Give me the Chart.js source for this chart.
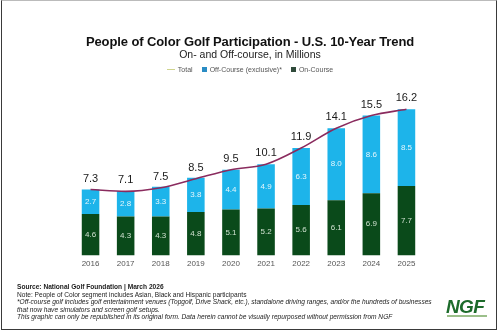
<!DOCTYPE html>
<html>
<head>
<meta charset="utf-8">
<script src="https://cdn.jsdelivr.net/npm/chart.js@4.4.1/dist/chart.umd.min.js"></script>
<style>
  html, body { margin: 0; padding: 0; background: #fff; }
  body { width: 500px; height: 334px; position: relative; overflow: hidden; font-family: "Liberation Sans", Arial, sans-serif; }
  #frame { position: absolute; left: 1px; top: 0; width: 496px; height: 330px; border: 1.5px solid #3a3a3a; border-top-color: #bbb; box-sizing: border-box; }
  #chart-wrap { position: absolute; left: 0; top: 0; width: 500px; height: 334px; }
  .title { position: absolute; left: 0; width: 500px; text-align: center; color: #111; }
  #title { top: 34px; font-size: 13px; font-weight: bold; letter-spacing: -0.1px; }
  #subtitle { top: 48px; font-size: 10.5px; color: #222; }
  #legend { position: absolute; top: 66px; left: 0; width: 500px; text-align: center; font-size: 7px; color: #555; }
  #legend span.item { margin: 0 4.5px; }
  #legend .sw { display: inline-block; width: 5px; height: 5px; margin-right: 3px; vertical-align: 0px; }
  #legend .ln { display: inline-block; width: 8px; height: 1.3px; margin-right: 3px; vertical-align: 2px; }
  #footer { position: absolute; left: 17px; top: 283px; font-size: 6.6px; line-height: 7.6px; color: #222; }
  #footer .b { font-weight: bold; }
  #footer .i { font-style: italic; }
  #logo { position: absolute; left: 446px; top: 296px; font-size: 19px; font-weight: 900; font-style: italic; color: #1d6b2b; letter-spacing: -0.6px; font-family: "Liberation Sans", Arial, sans-serif; }
  #logo-sub { position: absolute; left: 447px; top: 315px; width: 40px; height: 1.5px; background: #9bbf8a; }
</style>
</head>
<body>
<div id="chart-wrap"><canvas id="chart" width="500" height="334"></canvas></div>
<div id="frame"></div>
<div class="title" id="title">People of Color Golf Participation - U.S. 10-Year Trend</div>
<div class="title" id="subtitle">On- and Off-course, in Millions</div>
<div id="legend"></div>
<div id="footer">
  <div class="b">Source: National Golf Foundation | March 2026</div>
  <div>Note: People of Color segment includes Asian, Black and Hispanic participants</div>
  <div class="i">*Off-course golf includes golf entertainment venues (Topgolf, Drive Shack, etc.), standalone driving ranges, and/or the hundreds of businesses</div>
  <div class="i">that now have simulators and screen golf setups.</div>
  <div class="i">This graphic can only be republished in its original form. Data herein cannot be visually repurposed without permission from NGF</div>
</div>
<div id="logo">NGF</div>
<div id="logo-sub"></div>
<script>
// --- DATA ---
const years = ['2016', '2017', '2018', '2019', '2020', '2021', '2022', '2023', '2024', '2025'];
const onCourse = [4.6, 4.3, 4.3, 4.8, 5.1, 5.2, 5.6, 6.1, 6.9, 7.7];
const offCourse = [2.7, 2.8, 3.3, 3.8, 4.4, 4.9, 6.3, 8.0, 8.6, 8.5];
const totals = [7.3, 7.1, 7.5, 8.5, 9.5, 10.1, 11.9, 14.1, 15.5, 16.2];

// --- COLOURS ---
const blue = '#1db4ea';
const green = '#0a4a1a';
const lineColor = '#8a2b5e';

// legend built by hand (the reference uses different swatch tints)
document.getElementById('legend').innerHTML =
  '<span class="item"><span class="ln" style="background:#cfd48e"></span>Total</span>' +
  '<span class="item"><span class="sw" style="background:#2a8cc4"></span>Off-Course (exclusive)*</span>' +
  '<span class="item"><span class="sw" style="background:#2f4a3a"></span>On-Course</span>';

// draws value labels on bars and above the line
const valueLabels = {
  id: 'valueLabels',
  afterDatasetsDraw(chart) {
    const ctx = chart.ctx;
    ctx.save();
    ctx.textAlign = 'center';
    ctx.textBaseline = 'middle';
    chart.data.datasets.forEach((ds, i) => {
      const meta = chart.getDatasetMeta(i);
      meta.data.forEach((el, j) => {
        const v = ds.data[j].toFixed(1);
        if (ds.type === 'line') {
          ctx.font = '11px "Liberation Sans", Arial, sans-serif';
          ctx.fillStyle = '#1a1a1a';
          ctx.fillText(v, el.x, el.y - 11);
        } else {
          ctx.font = '8px "Liberation Sans", Arial, sans-serif';
          ctx.fillStyle = ds.labelColor;
          ctx.fillText(v, el.x, (el.y + el.base) / 2);
        }
      });
    });
    ctx.restore();
  }
};

new Chart(document.getElementById('chart'), {
  data: {
    labels: years,
    datasets: [
      {
        type: 'line',
        label: 'Total',
        data: totals,
        stack: 'total',
        borderColor: lineColor,
        borderWidth: 1.6,
        pointRadius: 0,
        tension: 0.4,
        cubicInterpolationMode: 'monotone',
        order: 0
      },
      {
        type: 'bar',
        label: 'On-Course',
        data: onCourse,
        stack: 'bars',
        backgroundColor: green,
        labelColor: '#cfe0cf',
        barPercentage: 0.5,
        categoryPercentage: 1,
        order: 1
      },
      {
        type: 'bar',
        label: 'Off-Course (exclusive)*',
        data: offCourse,
        stack: 'bars',
        backgroundColor: blue,
        labelColor: '#e4f6fc',
        barPercentage: 0.5,
        categoryPercentage: 1,
        order: 1
      }
    ]
  },
  options: {
    responsive: false,
    animation: false,
    layout: { padding: { left: 73, right: 76, top: 93, bottom: 61 } },
    plugins: {
      legend: { display: false },
      tooltip: { enabled: false }
    },
    scales: {
      x: {
        stacked: true,
        grid: { display: false, drawTicks: false },
        border: { display: false },
        ticks: { padding: 4, color: '#555', font: { size: 8, family: '"Liberation Sans", Arial, sans-serif' } }
      },
      y: {
        stacked: true,
        display: false,
        min: 0,
        max: 18
      }
    }
  },
  plugins: [valueLabels]
});
</script>
</body>
</html>
